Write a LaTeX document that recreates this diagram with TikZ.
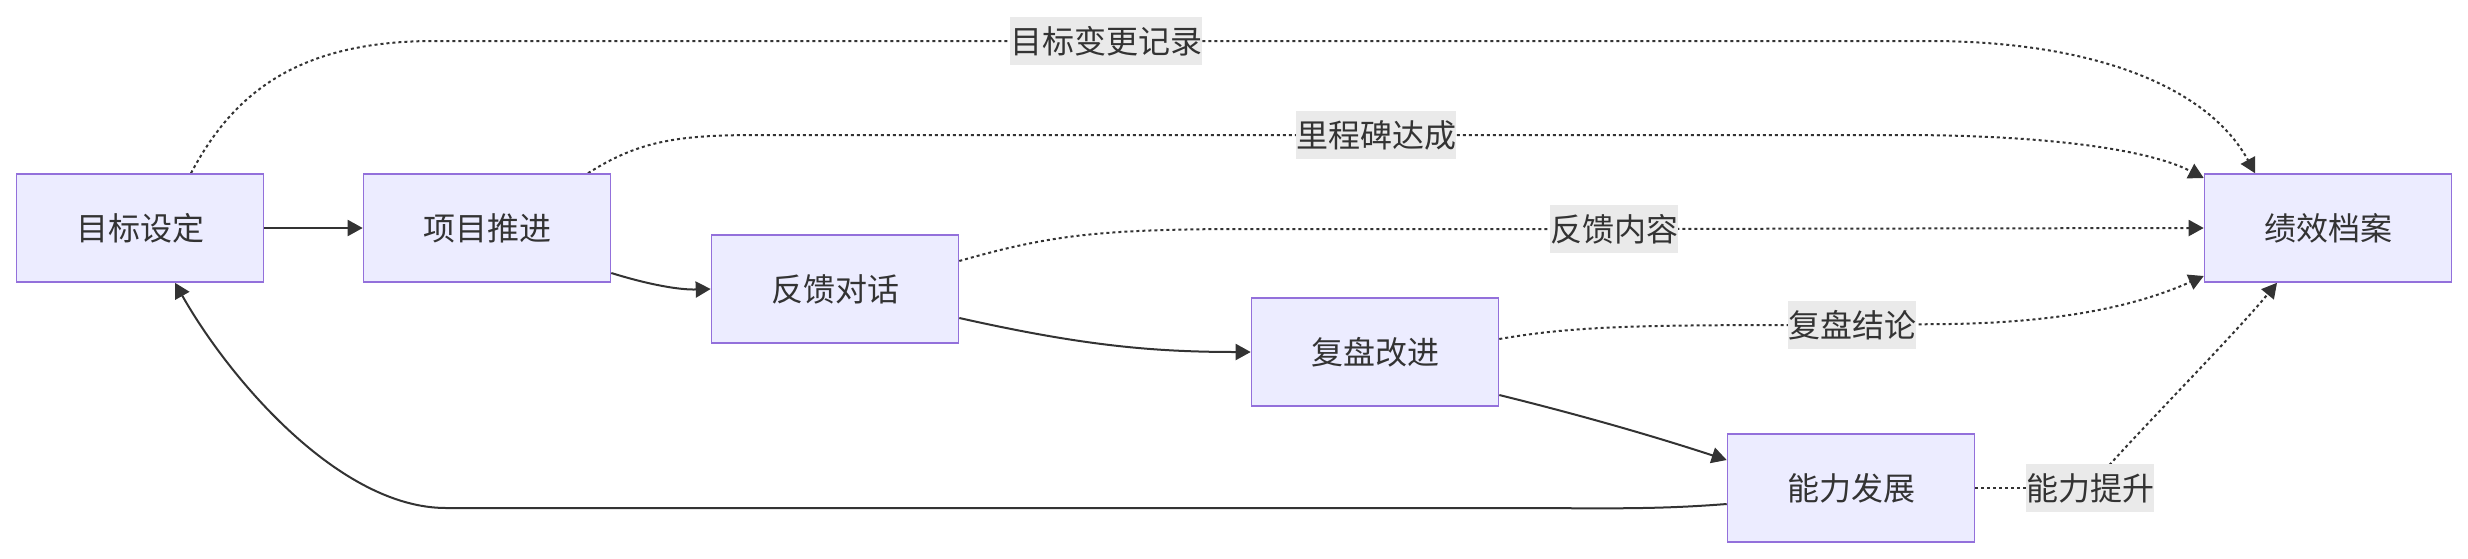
\documentclass[tikz,border=0pt]{standalone}
\usepackage{fontspec}
\newfontfamily\cjk{Noto Sans CJK SC}
\usetikzlibrary{arrows.meta,calc,backgrounds}
\definecolor{nodefill}{HTML}{ECECFF}
\definecolor{nodeline}{HTML}{9370DB}
\definecolor{linec}{HTML}{333333}
\definecolor{labelbg}{HTML}{EAEAEA}
\begin{document}
\begin{tikzpicture}[x=0.5pt,y=-0.5pt,
  box/.style={draw=nodeline, fill=nodefill, line width=0.8pt, minimum width=123.5pt, minimum height=54pt,
    inner sep=0pt, text=linec, font=\cjk\fontsize{16pt}{16pt}\selectfont},
  elabel/.style={fill=labelbg, inner xsep=0pt, inner ysep=0pt, minimum height=24pt, text=linec,
    font=\cjk\fontsize{16pt}{16pt}\selectfont},
  solidline/.style={draw=linec, line width=1pt, -{Triangle[length=7.5pt,width=8pt]}},
  dotline/.style={draw=linec, line width=1pt, dash pattern=on 1.5pt off 1.5pt, -{Triangle[length=7.5pt,width=8pt]}},
  dotplain/.style={draw=linec, line width=1pt, dash pattern=on 1.5pt off 1.5pt}
]
\useasboundingbox (0,0) rectangle (2468,558);

\node[box] (A) at (140,228) {目标设定};
\node[box] (B) at (487,228) {项目推进};
\node[box] (C) at (835,289) {反馈对话};
\node[box] (D) at (1375,352) {复盘改进};
\node[box] (E) at (1851,488) {能力发展};
\node[box] (F) at (2328,228) {绩效档案};

\node[elabel] (L1) at (1106,41) {目标变更记录};
\node[elabel] (L2) at (1376,135) {里程碑达成};
\node[elabel] (L3) at (1614,229) {反馈内容};
\node[elabel] (L4) at (1852,325) {复盘结论};
\node[elabel] (L5) at (2090,488) {能力提升};

\begin{scope}[on background layer]
% solid flow
\draw[solidline] (A.east) -- (B.west);
\draw[solidline] ($(B.east)+(0,45)$) .. controls (650,285) and (680,290) .. (C.west);
\draw[solidline] ($(C.east)+(0,29)$) .. controls (1080,345) and (1150,352) .. (D.west);
\draw[solidline] ($(D.east)+(0,43)$) .. controls (1580,415) and (1650,435) .. ($(E.west)+(0,-28)$);
\draw[solidline] ($(E.west)+(0,16)$) .. controls (1650,510) and (1600,508) .. (1500,508)
   -- (446,508) .. controls (340,508) and (230,380) .. ($(A.south)+(35,0)$);
% dotted to archive
\draw[dotline] ($(A.north)+(51,0)$) .. controls (230,100) and (290,41) .. (434,41)
   -- (L1.center) -- (1928,41) .. controls (2100,41) and (2210,90) .. ($(F.north)+(-73,0)$);
\draw[dotline] ($(B.north)+(101,0)$) .. controls (640,140) and (680,135) .. (760,135)
   -- (L2.center) -- (1900,135) .. controls (2050,135) and (2150,150) .. ($(F.west)+(0,-50)$);
\draw[dotline] ($(C.east)+(0,-28)$) .. controls (1050,235) and (1100,229) .. (1250,229)
   -- (L3.center) -- (F.west);
\draw[dotline] ($(D.east)+(0,-13)$) .. controls (1580,325) and (1650,325) .. (L4.center)
   -- (1950,324) .. controls (2080,322) and (2150,300) .. ($(F.west)+(0,48)$);
\draw[dotplain] (E.east) -- (L5.center);
\draw[dotline] (L5.center) .. controls (2110,460) and (2230,340) .. ($(F.south)+(-51,0)$);
\end{scope}
\end{tikzpicture}
\end{document}
